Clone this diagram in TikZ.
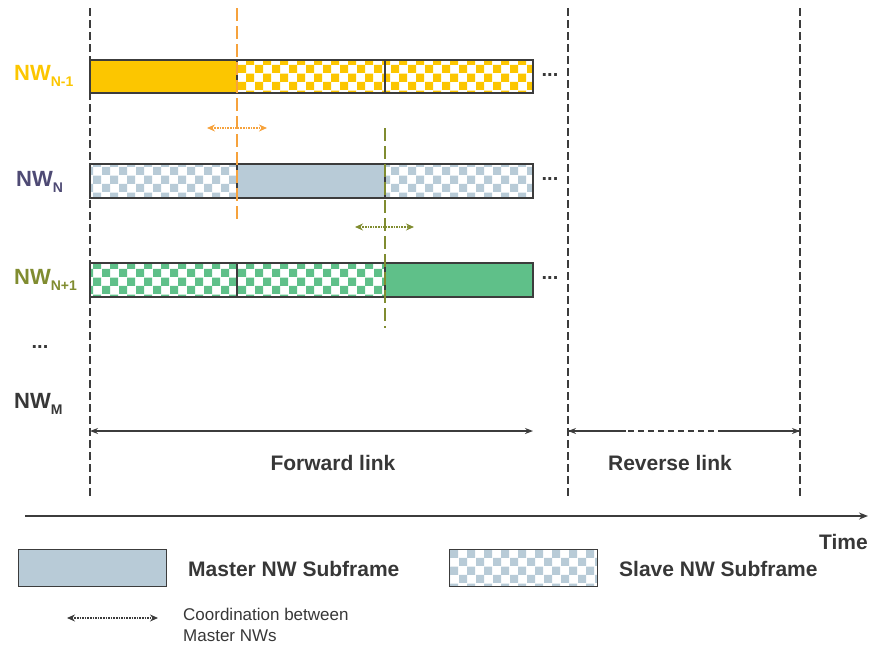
\documentclass[tikz,border=0pt]{standalone}
\usepackage{fontspec}
\setmainfont{Liberation Sans}
\usetikzlibrary{arrows.meta, positioning, patterns.meta}

\definecolor{nwyellow}{RGB}{252,198,0}
\definecolor{nwblue}{RGB}{184,203,215}
\definecolor{nwgreen}{RGB}{95,192,137}
\definecolor{nworange}{RGB}{246,162,60}
\definecolor{nwolive}{RGB}{128,140,48}
\definecolor{nwpurple}{RGB}{78,74,116}
\definecolor{framegray}{RGB}{60,60,60}
\definecolor{txtgray}{RGB}{55,55,55}

\tikzdeclarepattern{
  name=nwchecker,
  type=uncolored,
  bottom left={(0pt,0pt)},
  top right={(17pt,17pt)},
  tile size={(17pt,17pt)},
  code={\fill (0pt,0pt) rectangle (8.5pt,8.5pt); \fill (8.5pt,8.5pt) rectangle (17pt,17pt);}
}

\newcommand{\nwlab}[1]{NW\raisebox{-0.45ex}{\fontsize{14}{14}\selectfont #1}}

\tikzset{
  master/.style={draw=framegray, line width=1.2pt, fill=#1},
  slave/.style={draw=framegray, line width=1.2pt, pattern=nwchecker, pattern color=#1},
  bound/.style={draw=framegray, line width=1.3pt, dash pattern=on 8pt off 4pt},
  sync/.style={line width=1.3pt, dash pattern=on 13pt off 5pt},
  coord/.style={line width=1.6pt, densely dotted, {Stealth[length=8pt,width=7pt]}-{Stealth[length=8pt,width=7pt]}},
  lbl/.style={font=\bfseries\fontsize{21}{24}\selectfont, text=txtgray, inner sep=0pt},
  nwname/.style={font=\bfseries\fontsize{22}{24}\selectfont, anchor=west, inner sep=0pt},
  more/.style={font=\bfseries\fontsize{20}{20}\selectfont, text=txtgray, inner sep=0pt},
}

\begin{document}
\begin{tikzpicture}[x=1pt, y=-1pt]
\useasboundingbox (0,0) rectangle (871,651);

% frame boundaries
\draw[bound] (90,8) -- (90,497);
\draw[bound] (568,8) -- (568,497);
\draw[bound] (800,8) -- (800,497);

% subframes of each NW
\draw[master=nwyellow] (90,60) rectangle (237,93);
\draw[slave=nwyellow] (237,60) rectangle (385,93);
\draw[slave=nwyellow] (385,60) rectangle (533,93);

\draw[slave=nwblue] (90,164) rectangle (237,198);
\draw[master=nwblue] (237,164) rectangle (385,198);
\draw[slave=nwblue] (385,164) rectangle (533,198);

\draw[slave=nwgreen] (90,263) rectangle (237,297);
\draw[slave=nwgreen] (237,263) rectangle (385,297);
\draw[master=nwgreen] (385,263) rectangle (533,297);

\node[more] (d1) at (550,75) {...};
\node[more] (d2) at (550,179) {...};
\node[more] (d3) at (550,278) {...};

% NW names
\node[nwname, text=nwyellow] (nw1) at (14,76) {\nwlab{N-1}};
\node[nwname, text=nwpurple] (nw2) at (16,182) {\nwlab{N}};
\node[nwname, text=nwolive] (nw3) at (14,280) {\nwlab{N+1}};
\node[more] (dots) at (40,347) {...};
\node[nwname, text=txtgray] (nwm) at (14,404) {\nwlab{M}};

% coordination between master NWs
\draw[sync, nworange] (237,8) -- (237,222);
\coordinate (o1) at (207,128);
\coordinate (o2) at (267,128);
\draw[coord, nworange] (o1) -- (o2);

\draw[sync, nwolive] (385,128) -- (385,328);
\coordinate (g1) at (355,227);
\coordinate (g2) at (414,227);
\draw[coord, nwolive] (g1) -- (g2);

% forward and reverse link
\coordinate (fl1) at (90,431);
\coordinate (fl2) at (533,431);
\draw[framegray, line width=1.4pt, {Stealth[length=8pt,width=6pt]}-{Stealth[length=8pt,width=6pt]}] (fl1) -- (fl2);
\node[lbl] (fwd) at (333,463) {Forward link};

\coordinate (rl1) at (568,431);
\coordinate (rl2) at (800,431);
\draw[framegray, line width=1.2pt, dash pattern=on 6pt off 4pt] (rl1) -- (rl2);
\draw[framegray, line width=1.4pt, {Stealth[length=8pt,width=6pt]}-] (rl1) -- ++(58,0);
\draw[framegray, line width=1.4pt, -{Stealth[length=8pt,width=6pt]}] (rl2) ++(-78,0) -- (rl2);
\node[lbl] (rev) at (670,463) {Reverse link};

% time axis
\coordinate (t0) at (25,516);
\coordinate (t1) at (868,516);
\draw[framegray, line width=1.8pt, -{Stealth[length=9pt,width=7pt]}] (t0) -- (t1);
\node[lbl, anchor=base east] (time) at (868,549) {Time};

% legend
\draw[master=nwblue, line width=1pt] (18,549) rectangle (166,586);
\node[lbl, anchor=west] (lgm) at (188,569) {Master NW Subframe};
\draw[slave=nwblue, line width=1pt] (449,549) rectangle (597,586);
\node[lbl, anchor=west] (lgs) at (619,569) {Slave NW Subframe};

\coordinate (c1) at (67,618);
\coordinate (c2) at (158,618);
\draw[coord, framegray] (c1) -- (c2);
\node[anchor=north west, align=left, text=txtgray, font=\fontsize{17}{21}\selectfont, inner sep=0pt] (lgc) at (183,608) {Coordination between\\Master NWs};

\end{tikzpicture}
\end{document}
